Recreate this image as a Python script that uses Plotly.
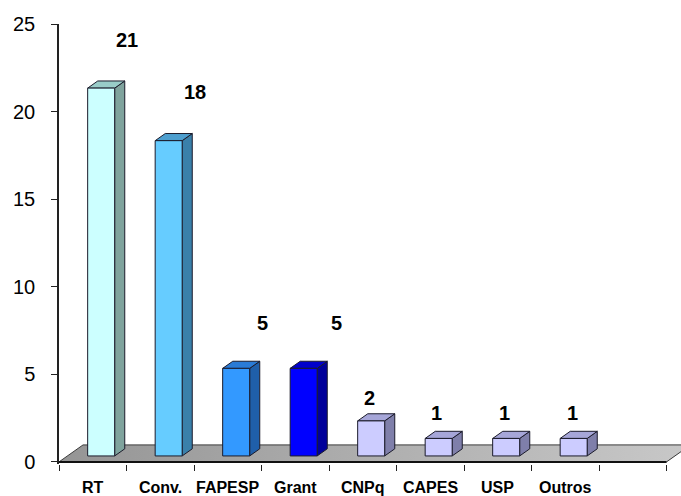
import plotly.graph_objects as go

# ---- data ----
categories = ["RT", "Conv.", "FAPESP", "Grant", "CNPq", "CAPES", "USP", "Outros"]
values = [21, 18, 5, 5, 2, 1, 1, 1]
y_ticks = [0, 5, 10, 15, 20, 25]

# ---- styles ----
front_colors = ["#CCFFFF", "#66CCFF", "#3399FF", "#0000FF", "#CCCCFF", "#CCCCFF", "#CCCCFF", "#CCCCFF"]
side_colors = ["#7FA39D", "#3A80AA", "#1F5FAA", "#00009A", "#7F7FAA", "#7F7FAA", "#7F7FAA", "#7F7FAA"]
top_colors = ["#99CCC8", "#4D9FCF", "#2A7BD6", "#0000CC", "#A6A6D8", "#A6A6D8", "#A6A6D8", "#A6A6D8"]
label_xshift = [34, 34.5, 35, 41.5, 7, 6.5, 7, 7.5]
label_yshift = [54, 54.5, 51, 51, 29, 31.5, 31.5, 31.5]

N_SLOTS = 9           # one empty slot at the end
CAT_PX = 67.5         # pixels per category
PLOT_L, PLOT_R = 59, 681
DX, DY = 0.356, 0.97  # floor depth offset (category units, value units)
D1, D2 = 0.35, 0.77   # bar front / back depth fraction
HW = 0.2              # bar half width

fig = go.Figure()

# floor
fx = [-0.5, N_SLOTS - 0.5, N_SLOTS - 0.5 + DX, -0.5 + DX, -0.5]
fy = [0, 0, DY, DY, 0]
fig.add_trace(go.Scatter(
    x=fx, y=fy, mode="lines", fill="toself",
    fillcolor="#A8A8A8",
    fillgradient=dict(type="horizontal", colorscale=[[0, "#959595"], [1, "#C8C8C8"]]),
    line=dict(color="#3a3a3a", width=1), hoverinfo="skip", showlegend=False))
# front edge of floor
fig.add_trace(go.Scatter(
    x=[-0.5, N_SLOTS - 0.5], y=[0, 0], mode="lines",
    line=dict(color="#111111", width=2), hoverinfo="skip", showlegend=False))

bx = (D2 - D1) * DX
by = (D2 - D1) * DY
outline = dict(color="#1b1b2b", width=1)
for i, v in enumerate(values):
    x0 = i - HW + D1 * DX
    x1 = i + HW + D1 * DX
    yb = D1 * DY
    yt = v + D1 * DY
    # side
    fig.add_trace(go.Scatter(
        x=[x1, x1 + bx, x1 + bx, x1, x1], y=[yb, yb + by, yt + by, yt, yb],
        mode="lines", fill="toself", fillcolor=side_colors[i], line=outline,
        hoverinfo="skip", showlegend=False))
    # top
    fig.add_trace(go.Scatter(
        x=[x0, x1, x1 + bx, x0 + bx, x0], y=[yt, yt, yt + by, yt + by, yt],
        mode="lines", fill="toself", fillcolor=top_colors[i], line=outline,
        hoverinfo="skip", showlegend=False))
    # front
    fig.add_trace(go.Scatter(
        x=[x0, x1, x1, x0, x0], y=[yb, yb, yt, yt, yb],
        mode="lines", fill="toself", fillcolor=front_colors[i], line=outline,
        hoverinfo="skip", showlegend=False))

annotations = []
for i, v in enumerate(values):
    annotations.append(dict(
        x=i, y=v, xref="x", yref="y", text=f"<b>{v}</b>", showarrow=False,
        xanchor="center", yanchor="middle",
        xshift=label_xshift[i], yshift=label_yshift[i],
        font=dict(family="Liberation Sans, Arial", size=20, color="black")))
for i, c in enumerate(categories):
    annotations.append(dict(
        x=i, y=0, xref="x", yref="paper", text=f"<b>{c}</b>", showarrow=False,
        xanchor="center", yanchor="middle", yshift=-23,
        font=dict(family="Liberation Sans, Arial", size=16, color="black")))

x_max = -0.5 + (PLOT_R - PLOT_L) / CAT_PX
fig.update_layout(
    width=681, height=496,
    margin=dict(l=PLOT_L, r=681 - PLOT_R, t=24, b=32),
    paper_bgcolor="white", plot_bgcolor="white",
    showlegend=False,
    annotations=annotations,
    xaxis=dict(range=[-0.5, x_max], tickvals=[k - 0.5 for k in range(N_SLOTS + 1)],
               ticktext=[""] * (N_SLOTS + 1), ticks="outside", ticklen=6,
               tickcolor="#222", tickwidth=1, showgrid=False, zeroline=False,
               showline=False, fixedrange=True),
    yaxis=dict(range=[-0.12, 25], tickvals=y_ticks, ticks="outside", ticklen=6,
               tickcolor="#222", tickwidth=1, showline=True, linecolor="#222",
               linewidth=1.5, showgrid=False, zeroline=False,
               tickfont=dict(family="Liberation Sans, Arial", size=20, color="black"),
               ticklabelstandoff=12, fixedrange=True),
)

fig.write_html("out.html")
